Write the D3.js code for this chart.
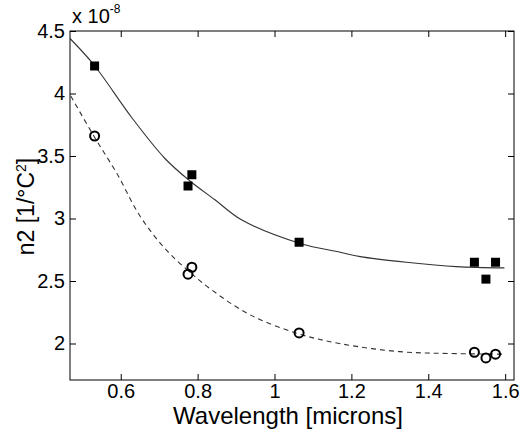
<!DOCTYPE html>
<html>
<head>
<meta charset="utf-8">
<script src="https://cdn.jsdelivr.net/npm/d3@7"></script>
<style>
  html, body { margin: 0; padding: 0; background: #fff; }
  svg { display: block; }
  text { font-family: "Liberation Sans", Arial, sans-serif; fill: #000; }
</style>
</head>
<body>
<svg id="chart" width="525" height="432"></svg>
<script>
// Measured samples (wavelength in microns, n2 in units of 1e-8 1/°C²)
const wavelengths = [0.532, 0.775, 0.785, 1.064, 1.52, 1.55, 1.575];
const squareValues = [4.22, 3.26, 3.35, 2.81, 2.65, 2.515, 2.65];
const circleValues = [3.66, 2.555, 2.61, 2.085, 1.93, 1.885, 1.915];

// Fitted trend curves
const solidFitX = [0.468, 0.53, 0.628, 0.715, 0.78, 0.845, 0.914, 1.067, 1.171, 1.223, 1.343, 1.473, 1.598];
const solidFitY = [4.44, 4.23, 3.81, 3.48, 3.30, 3.15, 2.99, 2.80, 2.73, 2.695, 2.65, 2.615, 2.605];
const dashedFitX = [0.47, 0.53, 0.59, 0.65, 0.715, 0.78, 0.836, 0.936, 1.06, 1.169, 1.325, 1.455, 1.598];
const dashedFitY = [3.98, 3.66, 3.36, 3.02, 2.76, 2.57, 2.43, 2.23, 2.08, 2.00, 1.935, 1.92, 1.915];

// Axis ticks
const xTicks = [0.6, 0.8, 1.0, 1.2, 1.4, 1.6];
const xTickLabels = ["0.6", "0.8", "1", "1.2", "1.4", "1.6"];
const yTicks = [2, 2.5, 3, 3.5, 4, 4.5];
const yTickLabels = ["2", "2.5", "3", "3.5", "4", "4.5"];

const svg = d3.select("#chart");
const plot = { left: 70, right: 514, top: 31, bottom: 380 };

const x = d3.scaleLinear().domain([0.468, 1.623]).range([plot.left, plot.right]);
const y = d3.scaleLinear().domain([1.708, 4.5]).range([plot.bottom, plot.top]);

const tickLen = 6;
const fontSize = 20;

// Axes with inward ticks on all four sides
const axisBottom = d3.axisBottom(x).tickValues(xTicks)
  .tickFormat((d, i) => xTickLabels[i]).tickSizeInner(-tickLen).tickSizeOuter(0).tickPadding(4);
const axisTop = d3.axisTop(x).tickValues(xTicks)
  .tickFormat("").tickSizeInner(-tickLen).tickSizeOuter(0);
const axisLeft = d3.axisLeft(y).tickValues(yTicks)
  .tickFormat((d, i) => yTickLabels[i]).tickSizeInner(-tickLen).tickSizeOuter(0).tickPadding(5);
const axisRight = d3.axisRight(y).tickValues(yTicks)
  .tickFormat("").tickSizeInner(-tickLen).tickSizeOuter(0);

function styleAxis(g) {
  g.select(".domain").remove();
  g.selectAll(".tick line").attr("stroke", "#000").attr("stroke-width", 1);
  g.selectAll(".tick text")
    .attr("font-size", fontSize)
    .attr("font-family", "Liberation Sans, Arial, sans-serif")
    .attr("fill", "#000");
}

svg.append("g").attr("transform", `translate(0,${plot.bottom})`).call(axisBottom).call(styleAxis);
svg.append("g").attr("transform", `translate(0,${plot.top})`).call(axisTop).call(styleAxis);
svg.append("g").attr("transform", `translate(${plot.left},0)`).call(axisLeft).call(styleAxis);
svg.append("g").attr("transform", `translate(${plot.right},0)`).call(axisRight).call(styleAxis);

// Plot frame
svg.append("rect")
  .attr("x", plot.left).attr("y", plot.top)
  .attr("width", plot.right - plot.left).attr("height", plot.bottom - plot.top)
  .attr("fill", "none").attr("stroke", "#000").attr("stroke-width", 1);

// Trend curves
const line = d3.line()
  .x(d => x(d[0])).y(d => y(d[1]))
  .curve(d3.curveCatmullRom.alpha(0.5));

svg.append("path")
  .datum(d3.zip(solidFitX, solidFitY))
  .attr("d", line)
  .attr("fill", "none").attr("stroke", "#333").attr("stroke-width", 1.1);

svg.append("path")
  .datum(d3.zip(dashedFitX, dashedFitY))
  .attr("d", line)
  .attr("fill", "none").attr("stroke", "#333").attr("stroke-width", 1.1)
  .attr("stroke-dasharray", "5,4");

// Filled square markers
const sq = 9;
svg.append("g").selectAll("rect")
  .data(d3.zip(wavelengths, squareValues))
  .join("rect")
  .attr("x", d => x(d[0]) - sq / 2)
  .attr("y", d => y(d[1]) - sq / 2)
  .attr("width", sq).attr("height", sq)
  .attr("fill", "#000");

// Open circle markers
svg.append("g").selectAll("circle")
  .data(d3.zip(wavelengths, circleValues))
  .join("circle")
  .attr("cx", d => x(d[0]))
  .attr("cy", d => y(d[1]))
  .attr("r", 4.5)
  .attr("fill", "none").attr("stroke", "#000").attr("stroke-width", 2);

// Axis titles
svg.append("text")
  .attr("x", (plot.left + plot.right) / 2 - 4)
  .attr("y", 424)
  .attr("text-anchor", "middle")
  .attr("font-size", 24)
  .text("Wavelength [microns]");

const yTitle = svg.append("text")
  .attr("transform", `translate(34,${(plot.top + plot.bottom) / 2 + 1}) rotate(-90)`)
  .attr("text-anchor", "middle")
  .attr("font-size", 23);
yTitle.append("tspan").text("n2 [1/°C");
yTitle.append("tspan").attr("font-size", 14).attr("dy", -8).text("2");
yTitle.append("tspan").attr("dy", 8).text("]");

// Exponent multiplier
const mult = svg.append("text")
  .attr("x", 72).attr("y", 23)
  .attr("font-size", fontSize);
mult.append("tspan").text("x 10");
mult.append("tspan").attr("font-size", 12).attr("dy", -10).text("-8");
</script>
</body>
</html>
